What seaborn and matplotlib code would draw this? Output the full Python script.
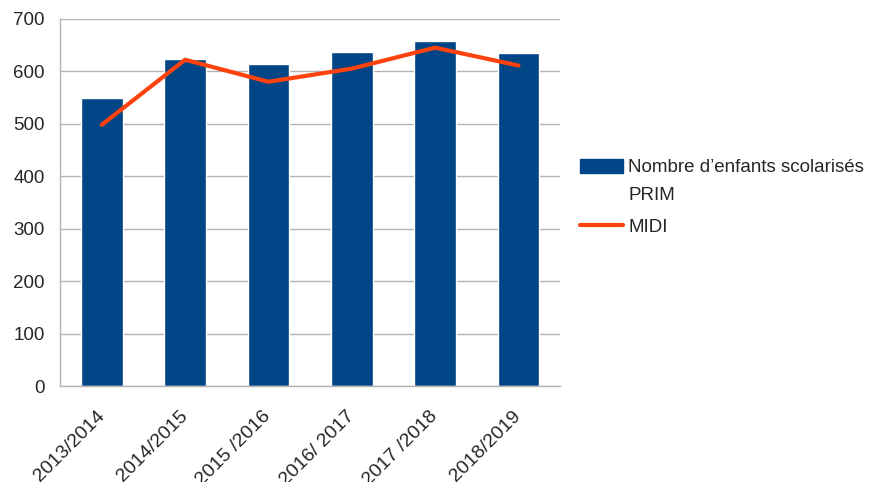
import matplotlib
matplotlib.use('Agg')
import matplotlib.pyplot as plt
import pandas as pd
import seaborn as sns
from matplotlib.patches import Patch
from matplotlib.lines import Line2D

# Données
seasons = ['2013/2014', '2014/2015', '2015 /2016', '2016/ 2017', '2017 /2018', '2018/2019']
prim = [550, 624, 614, 637, 658, 635]
midi = [498, 622, 580, 605, 645, 611]

BLUE = '#004586'
ORANGE = '#ff420e'
GRID = '#b3b3b3'

sns.set_style('white')
plt.rcParams['font.family'] = ['Liberation Sans', 'DejaVu Sans']

df = pd.DataFrame({'season': seasons, 'prim': prim, 'midi': midi})

fig = plt.figure(figsize=(8.71, 4.82), dpi=100)
ax = fig.add_axes([0.069, 0.199, 0.574, 0.762])

sns.barplot(data=df, x='season', y='prim', color=BLUE, width=0.5,
            saturation=1, ax=ax, zorder=2)
sns.lineplot(x=list(range(len(seasons))), y=df['midi'], color=ORANGE,
             linewidth=3, ax=ax, zorder=3)

ax.set_xlim(-0.5, len(seasons) - 0.5)
ax.set_ylim(0, 700)
ax.set_yticks(range(0, 701, 100))
ax.set_xlabel('')
ax.set_ylabel('')

# ticks on the category boundaries, labels centred on the bars
ax.set_xticks([i - 0.5 for i in range(len(seasons) + 1)])
ax.set_xticklabels([])
ax.set_xticks(range(len(seasons)), minor=True)
ax.set_xticklabels(seasons, minor=True, rotation=45, ha='right', va='center',
                   rotation_mode='anchor', fontsize=14)
ax.tick_params(axis='x', which='major', length=9, color=GRID, width=1)
ax.tick_params(axis='x', which='minor', length=0, pad=20)
ax.tick_params(axis='y', length=9, color=GRID, width=1, labelsize=13.5, pad=2)

ax.yaxis.grid(True, color=GRID, linewidth=1, zorder=0)
ax.set_axisbelow(True)
for side in ['top', 'right']:
    ax.spines[side].set_visible(False)
for side in ['left', 'bottom']:
    ax.spines[side].set_color(GRID)
    ax.spines[side].set_linewidth(1)

handles = [Patch(facecolor=BLUE, edgecolor=BLUE),
           Line2D([0], [0], color=ORANGE, linewidth=3)]
labels = ['Nombre d’enfants scolarisés', 'MIDI']
fig.legend(handles, labels, loc='upper left', bbox_to_anchor=(580 / 871, 1 - 159 / 482),
           frameon=False, fontsize=13.5, handlelength=2.3, handleheight=0.75,
           handletextpad=0.27, labelspacing=2.25, borderpad=0, borderaxespad=0)
# second line of the first legend entry
fig.text(628 / 871, 1 - 200 / 482, 'PRIM', fontsize=13.5, va='baseline', ha='left')

fig.savefig('out.png', dpi=100)
